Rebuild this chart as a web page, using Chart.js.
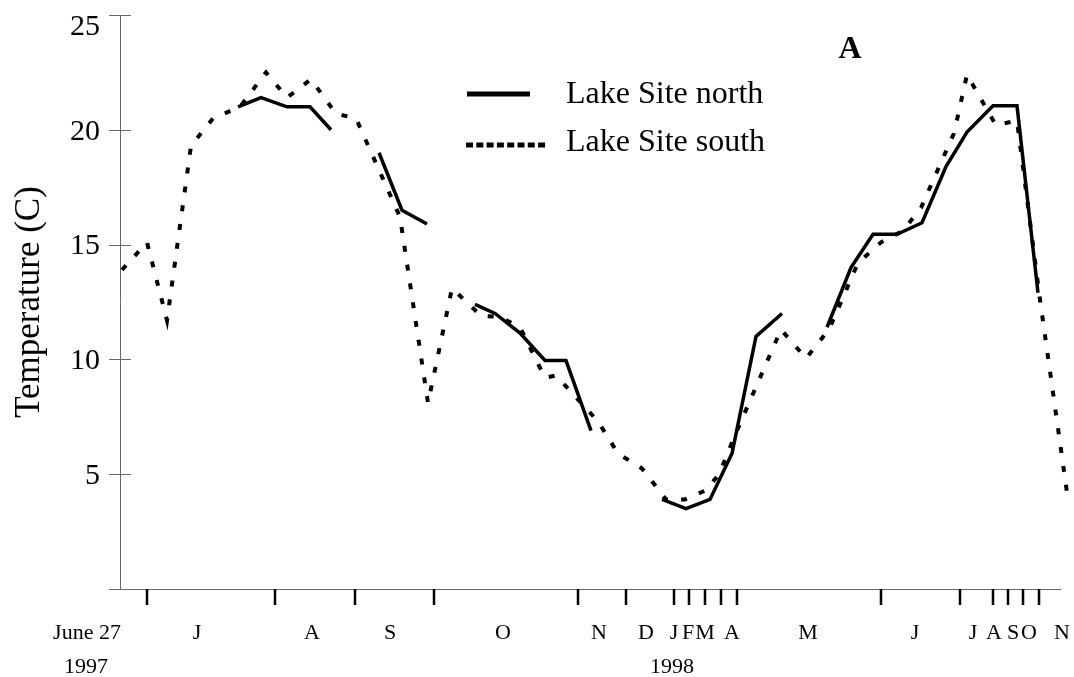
<!DOCTYPE html>
<html>
<head>
<meta charset="utf-8">
<script src="https://cdn.jsdelivr.net/npm/chart.js@4.4.0/dist/chart.umd.min.js"></script>
<style>
  html, body { margin: 0; padding: 0; background: #fff; }
</style>
</head>
<body>
<canvas id="tempChart" width="1074" height="677"></canvas>
<script>
// positions along the sampling axis (0 = June 27 1997), temperatures in C
// null temperatures break the north line where no samples were taken
const northPos  = [118, 141, 167, 190, 211, 235, 259, 282, 307, 331, 355, 375, 400, 425, 446, 471, 506, 542, 566, 590, 612, 636, 662, 684, 707, 731, 753, 777, 802, 826, 847, 873, 897, 918];
const northTemp = [21.0, 21.4, 21.0, 21.0, 20.0, null, 19.0, 16.5, 15.9, null, 12.4, 12.0, 11.15, 9.95, 9.95, 6.9, null, 3.9, 3.5, 3.9, 5.9, 11.0, 12.0, null, 11.4, 14.0, 15.45, 15.45, 15.95, 18.4, 19.9, 21.05, 21.05, 12.9];

const southPos  = [2, 27, 47, 71, 93, 120, 146, 167, 191, 216, 236, 280, 308, 332, 361, 380, 400, 425, 436, 478, 498, 522, 546, 565, 586, 599, 616, 648, 661, 686, 709, 738, 761, 783, 801, 834, 847, 876, 897, 920, 947];
const southTemp = [13.9, 15.1, 11.7, 19.3, 20.5, 21.0, 22.5, 21.4, 22.2, 20.7, 20.5, 16.2, 8.1, 13.1, 11.9, 11.85, 11.4, 9.2, 9.3, 7.3, 5.9, 5.25, 3.9, 3.9, 4.3, 5.0, 6.8, 10.0, 11.3, 10.05, 11.3, 14.2, 15.1, 15.6, 16.6, 19.85, 22.4, 20.2, 20.4, 12.6, 4.2];

// month boundaries and month letters along the same axis
const monthTicks  = [27, 155, 235, 314, 458, 506, 554, 569, 585, 601, 617, 761, 840, 873, 888, 903, 919];
const monthLabels = ['J', 'A', 'S', 'O', 'N', 'D', 'J', 'F', 'M', 'A', 'M', 'J', 'J', 'A', 'S', 'O', 'N'];
const monthPos    = [77, 192, 270, 383, 479, 526, 554, 568, 585, 612, 688, 795, 853, 874, 893, 909, 942];
const yearLabels  = ['1997', '1998'];
const yearPos     = [-34, 552];

const yTicks = [0, 5, 10, 15, 20, 25];
const seriesNames = ['Lake Site north', 'Lake Site south'];

const serif = '"Liberation Serif", "Times New Roman", serif';

function toPoints(xs, ys) {
    return xs.map((x, i) => ({ x: x, y: ys[i] }));
}

// tick marks, tick labels, month letters, legend and panel letter
const axisDecor = {
    id: 'axisDecor',
    afterDraw(chart) {
        const ctx = chart.ctx,
            area = chart.chartArea,
            xs = chart.scales.x,
            ys = chart.scales.y;
        ctx.save();

        ctx.strokeStyle = '#666';
        ctx.lineWidth = 1;
        yTicks.forEach(v => {
            const py = Math.round(ys.getPixelForValue(v)) + 0.5;
            ctx.beginPath();
            ctx.moveTo(area.left - 11, py);
            ctx.lineTo(area.left + 11, py);
            ctx.stroke();
        });

        // y labels, the top one kept inside the canvas
        ctx.fillStyle = '#000';
        ctx.textAlign = 'right';
        ctx.textBaseline = 'middle';
        ctx.font = '30px ' + serif;
        yTicks.forEach(v => {
            if (v === 0) return;
            const py = Math.max(ys.getPixelForValue(v) + 2, 27);
            ctx.fillText(String(v), area.left - 20, py);
        });

        ctx.strokeStyle = '#000';
        ctx.lineWidth = 2.5;
        monthTicks.forEach(p => {
            const px = Math.round(xs.getPixelForValue(p));
            ctx.beginPath();
            ctx.moveTo(px, area.bottom);
            ctx.lineTo(px, area.bottom + 16);
            ctx.stroke();
        });

        ctx.textAlign = 'center';
        ctx.font = '22px ' + serif;
        monthLabels.forEach((m, i) => {
            ctx.fillText(m, xs.getPixelForValue(monthPos[i]), area.bottom + 44);
        });
        ctx.fillText('June 27', xs.getPixelForValue(-33), area.bottom + 44);
        yearLabels.forEach((t, i) => {
            ctx.fillText(t, xs.getPixelForValue(yearPos[i]), area.bottom + 78);
        });

        // legend
        const sets = chart.data.datasets;
        ctx.strokeStyle = '#000';
        ctx.lineWidth = 5;
        ctx.beginPath();
        ctx.moveTo(467, 94);
        ctx.lineTo(530, 94);
        ctx.stroke();
        ctx.setLineDash([7, 3.3]);
        ctx.beginPath();
        ctx.moveTo(466, 145);
        ctx.lineTo(546, 145);
        ctx.stroke();
        ctx.setLineDash([]);
        ctx.textAlign = 'left';
        ctx.font = '32px ' + serif;
        ctx.fillText(sets[0].label, 566, 95);
        ctx.fillText(sets[1].label, 566, 143);

        ctx.textAlign = 'center';
        ctx.font = 'bold 32px ' + serif;
        ctx.fillText('A', 850, 50);
        ctx.restore();
    }
};

const ctx = document.getElementById('tempChart').getContext('2d');

const tempChart = new Chart(ctx, {
    type: 'line',
    data: {
        datasets: [{
            label: seriesNames[0],
            data: toPoints(northPos, northTemp),
            borderColor: '#000',
            borderWidth: 3.5,
            borderJoinStyle: 'miter',
            pointRadius: 0,
            tension: 0,
            spanGaps: false
        }, {
            label: seriesNames[1],
            data: toPoints(southPos, southTemp),
            borderColor: '#000',
            borderWidth: 4,
            borderDash: [6, 13],
            borderCapStyle: 'butt',
            pointRadius: 0,
            tension: 0,
            clip: false
        }]
    },
    options: {
        responsive: false,
        animation: false,
        layout: { padding: { top: 15, right: 14, left: 0, bottom: 0 } },
        plugins: {
            legend: { display: false },
            tooltip: { enabled: false }
        },
        scales: {
            x: {
                type: 'linear',
                min: 0,
                max: 940,
                afterFit: s => { s.height = 88; s.paddingLeft = 0; s.paddingRight = 0; },
                ticks: { display: false },
                grid: { display: false, drawTicks: false },
                border: { display: true, color: '#666', width: 1 }
            },
            y: {
                min: 0,
                max: 25,
                afterFit: s => { s.width = 120; s.paddingTop = 0; s.paddingBottom = 0; },
                ticks: { display: false, stepSize: 5 },
                grid: { display: false, drawTicks: false },
                border: { display: true, color: '#666', width: 1 },
                title: {
                    display: true,
                    text: 'Temperature (C)',
                    color: '#000',
                    font: { family: serif, size: 35 },
                    padding: { top: 9, bottom: 0 }
                }
            }
        }
    },
    plugins: [axisDecor]
});
</script>
</body>
</html>
